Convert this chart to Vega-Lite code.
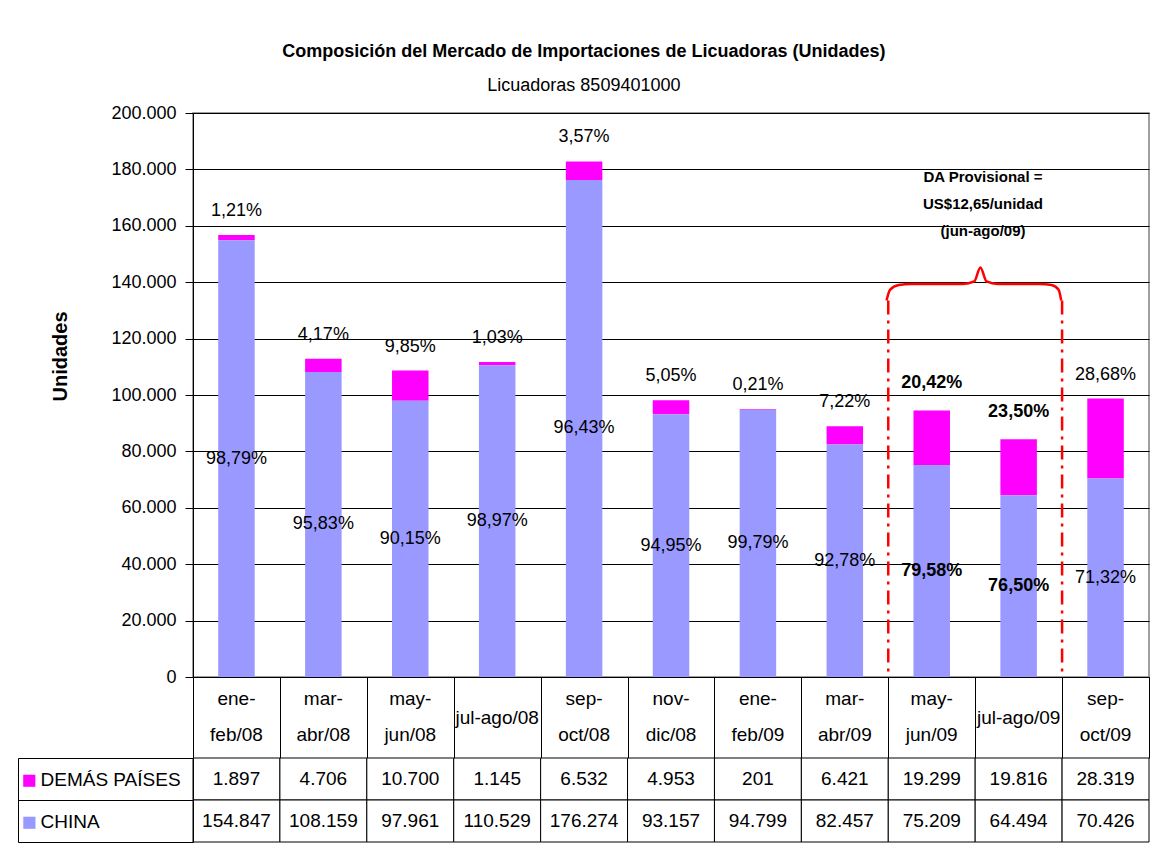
{
  "$schema": "https://vega.github.io/schema/vega-lite/v6.json",
  "padding": {"left": 17, "top": 43, "right": 6, "bottom": 4},
  "background": "white",
  "config": {
    "locale": {"number": {"decimal": ",", "thousands": ".", "grouping": [3], "currency": ["$", ""]}},
    "font": "Liberation Sans, Arial, sans-serif",
    "axis": {"labelColor": "black", "titleColor": "black", "labelFont": "Liberation Sans, Arial, sans-serif", "titleFont": "Liberation Sans, Arial, sans-serif"},
    "text": {"font": "Liberation Sans, Arial, sans-serif", "color": "black"},
    "title": {"font": "Liberation Sans, Arial, sans-serif", "subtitleFont": "Liberation Sans, Arial, sans-serif"}
  },
  "title": {
    "text": "Composición del Mercado de Importaciones de Licuadoras (Unidades)",
    "subtitle": "Licuadoras 8509401000",
    "anchor": "middle",
    "frame": "bounds",
    "fontSize": 18,
    "fontWeight": "bold",
    "color": "black",
    "subtitleFontSize": 18,
    "subtitleColor": "black",
    "subtitlePadding": 16,
    "offset": 8
  },
  "datasets": {
    "d": [
      {"cat": "ene-feb/08", "serie": "DEMÁS PAÍSES", "value": 1897, "pct": "1,21%"},
      {"cat": "ene-feb/08", "serie": "CHINA", "value": 154847, "pct": "98,79%"},
      {"cat": "mar-abr/08", "serie": "DEMÁS PAÍSES", "value": 4706, "pct": "4,17%"},
      {"cat": "mar-abr/08", "serie": "CHINA", "value": 108159, "pct": "95,83%"},
      {"cat": "may-jun/08", "serie": "DEMÁS PAÍSES", "value": 10700, "pct": "9,85%"},
      {"cat": "may-jun/08", "serie": "CHINA", "value": 97961, "pct": "90,15%"},
      {"cat": "jul-ago/08", "serie": "DEMÁS PAÍSES", "value": 1145, "pct": "1,03%"},
      {"cat": "jul-ago/08", "serie": "CHINA", "value": 110529, "pct": "98,97%"},
      {"cat": "sep-oct/08", "serie": "DEMÁS PAÍSES", "value": 6532, "pct": "3,57%"},
      {"cat": "sep-oct/08", "serie": "CHINA", "value": 176274, "pct": "96,43%"},
      {"cat": "nov-dic/08", "serie": "DEMÁS PAÍSES", "value": 4953, "pct": "5,05%"},
      {"cat": "nov-dic/08", "serie": "CHINA", "value": 93157, "pct": "94,95%"},
      {"cat": "ene-feb/09", "serie": "DEMÁS PAÍSES", "value": 201, "pct": "0,21%"},
      {"cat": "ene-feb/09", "serie": "CHINA", "value": 94799, "pct": "99,79%"},
      {"cat": "mar-abr/09", "serie": "DEMÁS PAÍSES", "value": 6421, "pct": "7,22%"},
      {"cat": "mar-abr/09", "serie": "CHINA", "value": 82457, "pct": "92,78%"},
      {"cat": "may-jun/09", "serie": "DEMÁS PAÍSES", "value": 19299, "pct": "20,42%"},
      {"cat": "may-jun/09", "serie": "CHINA", "value": 75209, "pct": "79,58%"},
      {"cat": "jul-ago/09", "serie": "DEMÁS PAÍSES", "value": 19816, "pct": "23,50%"},
      {"cat": "jul-ago/09", "serie": "CHINA", "value": 64494, "pct": "76,50%"},
      {"cat": "sep-oct/09", "serie": "DEMÁS PAÍSES", "value": 28319, "pct": "28,68%"},
      {"cat": "sep-oct/09", "serie": "CHINA", "value": 70426, "pct": "71,32%"}
    ]
  },
  "bounds": "flush",
  "spacing": 81,
  "resolve": {"scale": {"x": "independent", "y": "independent"}},
  "vconcat": [
    {
      "width": 956,
      "height": 564,
      "view": {"stroke": "#808080", "strokeWidth": 1.5},
      "resolve": {"scale": {"x": "independent", "y": "independent"}},
      "layer": [
        {
          "data": {"name": "d"},
          "resolve": {"scale": {"y": "independent"}},
          "encoding": {
            "x": {
              "field": "cat", "type": "nominal",
              "scale": {"domain": ["ene-feb/08", "mar-abr/08", "may-jun/08", "jul-ago/08", "sep-oct/08", "nov-dic/08", "ene-feb/09", "mar-abr/09", "may-jun/09", "jul-ago/09", "sep-oct/09"], "paddingInner": 0.58, "paddingOuter": 0.29},
              "axis": {
                "title": null, "labelAngle": 0, "labelFontSize": 19, "labelLineHeight": 36,
                "labelBaseline": "middle",
                "labelPadding": {"condition": {"test": "indexof(datum.label, 'jul') === 0", "value": 40}, "value": 21},
                "ticks": false, "tickSize": 0,
                "domainColor": "black", "labelOverlap": false, "labelBound": false,
                "labelLimit": 0,
                "labelExpr": "indexof(datum.label, 'jul') === 0 ? datum.label : [substring(datum.label, 0, 4), substring(datum.label, 4)]"
              }
            }
          },
          "layer": [
            {
              "mark": {"type": "bar"},
              "encoding": {
                "y": {
                  "field": "value", "type": "quantitative", "stack": "zero",
                  "scale": {"domain": [0, 200000]},
                  "axis": {
                    "values": [0, 20000, 40000, 60000, 80000, 100000, 120000, 140000, 160000, 180000, 200000],
                    "format": ",d", "labelFontSize": 18, "tickSize": 8, "tickColor": "black",
                    "domainColor": "black", "gridColor": "black", "gridOpacity": 1, "grid": true,
                    "labelPadding": 9, "title": "Unidades", "titleFontSize": 20, "titleFontWeight": "bold",
                    "titlePadding": 40, "titleY": 243
                  }
                },
                "color": {
                  "field": "serie", "type": "nominal",
                  "scale": {"domain": ["DEMÁS PAÍSES", "CHINA"], "range": ["#FF00FF", "#9999FF"]},
                  "legend": null
                },
                "order": {"field": "serie", "sort": "ascending"}
              }
            },
            {
              "transform": [{"filter": "datum.serie === 'CHINA' && datum.cat !== 'may-jun/09' && datum.cat !== 'jul-ago/09'"}],
              "mark": {"type": "text", "fontSize": 18, "baseline": "middle"},
              "encoding": {
                "y": {"field": "value", "type": "quantitative", "scale": {"domain": [0, 400000]}, "axis": null},
                "text": {"field": "pct"}
              }
            },
            {
              "transform": [{"filter": "datum.serie === 'CHINA' && (datum.cat === 'may-jun/09' || datum.cat === 'jul-ago/09')"}],
              "mark": {"type": "text", "fontSize": 18, "fontWeight": "bold", "baseline": "middle"},
              "encoding": {
                "y": {"field": "value", "type": "quantitative", "scale": {"domain": [0, 400000]}, "axis": null},
                "text": {"field": "pct"}
              }
            },
            {
              "transform": [{"filter": "datum.cat !== 'may-jun/09' && datum.cat !== 'jul-ago/09'"}],
              "mark": {"type": "text", "fontSize": 18, "baseline": "middle", "dy": -24},
              "encoding": {
                "y": {"field": "value", "type": "quantitative", "stack": "zero", "scale": {"domain": [0, 200000]}, "axis": null},
                "detail": {"field": "serie"},
                "order": {"field": "serie", "sort": "ascending"},
                "text": {"condition": {"test": "datum.serie === 'CHINA'", "value": ""}, "field": "pct"}
              }
            },
            {
              "transform": [{"filter": "datum.cat === 'may-jun/09' || datum.cat === 'jul-ago/09'"}],
              "mark": {"type": "text", "fontSize": 18, "fontWeight": "bold", "baseline": "middle", "dy": -27},
              "encoding": {
                "y": {"field": "value", "type": "quantitative", "stack": "zero", "scale": {"domain": [0, 200000]}, "axis": null},
                "detail": {"field": "serie"},
                "order": {"field": "serie", "sort": "ascending"},
                "text": {"condition": {"test": "datum.serie === 'CHINA'", "value": ""}, "field": "pct"}
              }
            }
          ]
        },
        {
          "resolve": {"scale": {"y": "shared"}},
          "layer": [
            {
              "data": {"values": [{"pos": 8, "top": 133500}, {"pos": 10, "top": 133500}]},
              "mark": {"type": "rule", "color": "#FF0000", "strokeWidth": 2.5, "strokeDash": [14, 6, 3, 6]},
              "encoding": {
                "x": {
                  "field": "pos", "type": "quantitative", "scale": {"domain": [0, 11], "nice": false, "zero": false},
                  "axis": {
                    "orient": "bottom", "values": [0, 1, 2, 3, 4, 5, 6, 7, 8, 9, 10, 11], "labels": false,
                    "domain": false, "grid": false, "ticks": true, "tickSize": 81, "tickColor": "black",
                    "tickWidth": 1, "title": null
                  }
                },
                "y": {"field": "top", "type": "quantitative", "scale": {"domain": [0, 200000]}, "axis": null},
                "y2": {"datum": 0}
              }
            },
            {
              "data": {"values": [
                {"pos": 7.98, "v": 133500}, {"pos": 8.02, "v": 137300}, {"pos": 8.12, "v": 139000},
                {"pos": 8.26, "v": 139400}, {"pos": 8.86, "v": 139400}, {"pos": 8.99, "v": 140300},
                {"pos": 9.06, "v": 145200}, {"pos": 9.13, "v": 140300}, {"pos": 9.26, "v": 139400},
                {"pos": 9.74, "v": 139400}, {"pos": 9.88, "v": 139000}, {"pos": 9.96, "v": 137300},
                {"pos": 9.99, "v": 133500}
              ]},
              "mark": {"type": "line", "color": "#FF0000", "strokeWidth": 2.5, "interpolate": "monotone"},
              "encoding": {
                "x": {"field": "pos", "type": "quantitative", "scale": {"domain": [0, 11], "nice": false, "zero": false}},
                "y": {"field": "v", "type": "quantitative", "scale": {"domain": [0, 200000]}, "axis": null}
              }
            },
            {
              "data": {"values": [{"pos": 9.09, "v": 177300, "label": "DA Provisional =\nUS$12,65/unidad\n(jun-ago/09)"}]},
              "mark": {"type": "text", "fontSize": 15, "fontWeight": "bold", "lineBreak": "\n", "lineHeight": 27, "baseline": "middle"},
              "encoding": {
                "x": {"field": "pos", "type": "quantitative", "scale": {"domain": [0, 11], "nice": false, "zero": false}},
                "y": {"field": "v", "type": "quantitative", "scale": {"domain": [0, 200000]}, "axis": null},
                "text": {"field": "label"}
              }
            }
          ]
        }
      ]
    },
    {
      "width": 956,
      "height": 84,
      "data": {"name": "d"},
      "view": {"stroke": null},
      "resolve": {"scale": {"y": "independent"}},
      "encoding": {
        "x": {
          "field": "cat", "type": "nominal",
          "scale": {"domain": ["ene-feb/08", "mar-abr/08", "may-jun/08", "jul-ago/08", "sep-oct/08", "nov-dic/08", "ene-feb/09", "mar-abr/09", "may-jun/09", "jul-ago/09", "sep-oct/09"], "paddingInner": 0, "paddingOuter": 0},
          "axis": null
        }
      },
      "layer": [
        {
          "mark": {"type": "rect", "fill": "white", "stroke": "black", "strokeWidth": 1},
          "encoding": {
            "y": {
              "field": "serie", "type": "nominal",
              "scale": {"domain": ["DEMÁS PAÍSES", "CHINA"], "paddingInner": 0, "paddingOuter": 0},
              "axis": {
                "title": null, "orient": "left", "tickSize": 175, "tickBand": "extent", "tickColor": "black",
                "domainColor": "black", "labelAlign": "left", "labelPadding": -22, "labelFontSize": 19,
                "labelBaseline": "middle", "labelLimit": 0
              }
            }
          }
        },
        {
          "mark": {"type": "text", "fontSize": 19},
          "encoding": {
            "y": {
              "field": "serie", "type": "nominal",
              "scale": {"domain": ["DEMÁS PAÍSES", "CHINA"], "paddingInner": 0, "paddingOuter": 0},
              "axis": {
                "title": null, "orient": "left", "offset": 175, "ticks": false, "tickSize": 0,
                "domainColor": "black", "labelExpr": "'■'", "labelAlign": "left", "labelPadding": -3,
                "labelFontSize": 25, "labelBaseline": "middle",
                "labelColor": {"condition": {"test": "datum.value === 'CHINA'", "value": "#9999FF"}, "value": "#FF00FF"}
              }
            },
            "text": {"field": "value", "type": "quantitative", "format": ",d"}
          }
        }
      ]
    }
  ]
}
